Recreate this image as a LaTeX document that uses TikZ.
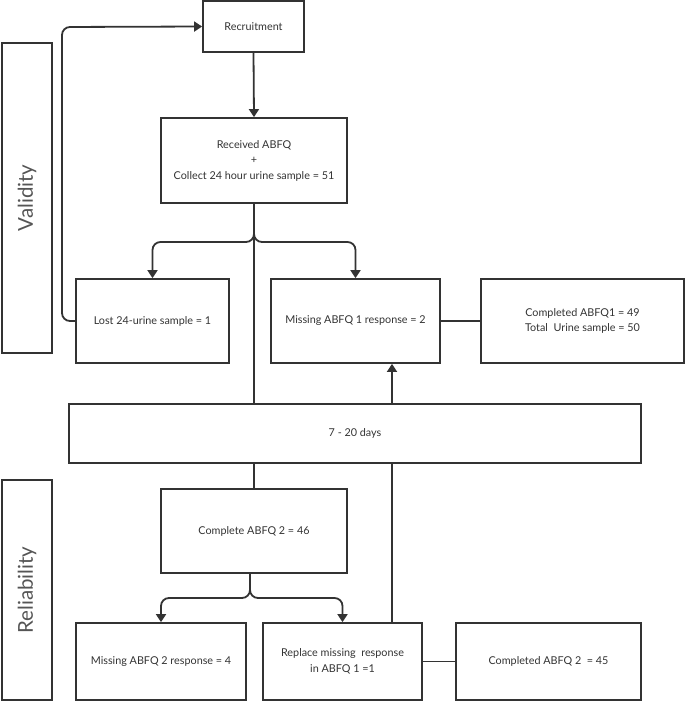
\documentclass[tikz,border=0pt]{standalone}
\usepackage{fontspec}
\setmainfont{Lato}
\usetikzlibrary{arrows.meta}
\definecolor{linegray}{HTML}{333333}
\definecolor{sidegray}{HTML}{555555}
\begin{document}
\begin{tikzpicture}[x=1pt, y=-1pt,
  every node/.style={font=\fontsize{10.8}{15.5}\selectfont, text=linegray},
  box/.style={draw=linegray, line width=1.8pt, align=center, inner sep=0pt},
  side/.style={draw=linegray, line width=1.8pt, inner sep=0pt},
  link/.style={draw=linegray, line width=1.8pt},
  arr/.style={link, -{Triangle[length=8pt, width=10pt]}}]
\useasboundingbox (0,0) rectangle (685,702);
% Side labels
\node[side, minimum width=50, minimum height=310] (valid) at (27,198) {};
\node[rotate=90, font=\fontsize{20.5}{24}\selectfont, text=sidegray] at (valid.center) {Validity};
\node[side, minimum width=50, minimum height=220] (relia) at (27,590) {};
\node[rotate=90, font=\fontsize{20.5}{24}\selectfont, text=sidegray] at (relia.center) {Reliability};
% Validity boxes
\node[box, minimum width=101, minimum height=51] (rec) at (253.5,26.5) {Recruitment};
\node[box, minimum width=186, minimum height=85] (recv) at (254,160.5) {Received ABFQ\\+\\Collect 24 hour urine sample = 51};
\node[box, minimum width=153, minimum height=84] (lost) at (152.5,321) {Lost 24-urine sample = 1};
\node[box, minimum width=169, minimum height=84] (miss1) at (355.5,321) {Missing ABFQ 1 response = 2};
\node[box, minimum width=203, minimum height=84] (comp1) at (582.5,321) {Completed ABFQ1 = 49\\Total\ \ Urine sample = 50};
\node[box, minimum width=572, minimum height=59] (days) at (355,433.5) {7 - 20 days};
% Reliability boxes
\node[box, minimum width=186, minimum height=84] (comp2) at (254,531) {Complete ABFQ 2 = 46};
\node[box, minimum width=170, minimum height=77] (miss2) at (161,661.5) {Missing ABFQ 2 response = 4};
\node[box, minimum width=159, minimum height=77] (repl) at (342.5,661.5) {Replace missing\ \ response\\in ABFQ 1 =1};
\node[box, minimum width=185, minimum height=77] (comp2b) at (548.5,661.5) {Completed ABFQ 2\ \ = 45};
% Helper points
\coordinate (b1) at (254,242);
\coordinate (b2) at (250,598);
\coordinate (lp) at (62,27);
\coordinate (j) at (392,0);
% Connectors
\draw[arr, rounded corners=8pt] (lost.west) -| (lp) -- (rec.west);
\draw[arr] (rec.south) -- (recv.north);
\draw[arr, rounded corners=8pt] (recv.south) -- (b1) -| (lost.north);
\draw[arr, rounded corners=8pt] (recv.south) -- (b1) -| (miss1.north);
\draw[link] (recv.south) -- (recv.south |- days.north);
\draw[arr] (days.north -| j) -- (miss1.south -| j);
\draw[link] (miss1.east) -- (comp1.west);
\draw[link] (days.south -| comp2.north) -- (comp2.north);
\draw[link] (days.south -| j) -- (repl.north -| j);
\draw[arr, rounded corners=8pt] (comp2.south -| b2) -- (b2) -| (miss2.north);
\draw[arr, rounded corners=8pt] (comp2.south -| b2) -- (b2) -| (repl.north);
\draw[link] (repl.east) -- (comp2b.west);
\end{tikzpicture}
\end{document}
